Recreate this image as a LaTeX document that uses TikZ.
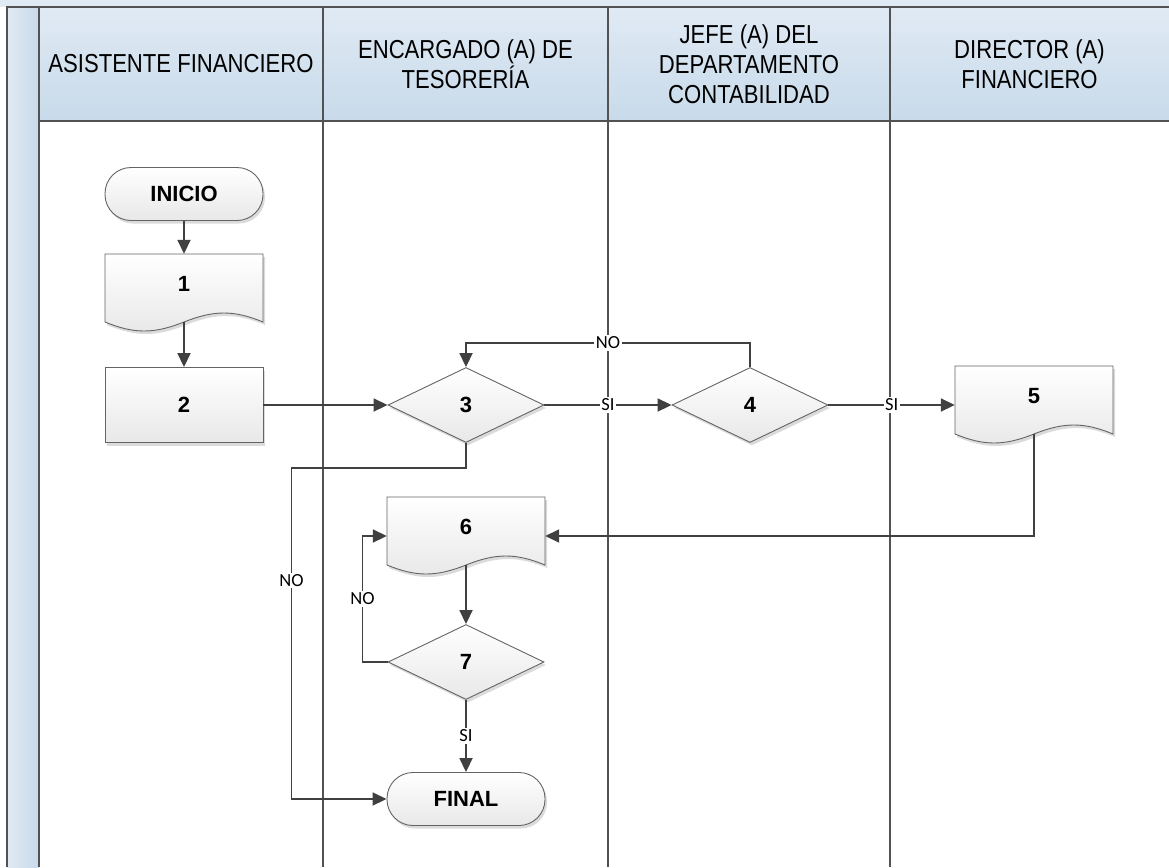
\documentclass[tikz,border=0pt]{standalone}
\usepackage{fontspec}
\setmainfont{Liberation Sans}
\newfontfamily\headfont[FakeStretch=0.85]{Liberation Sans}
\newfontfamily\tagfont{Carlito}
\usetikzlibrary{arrows.meta,shapes.geometric,shadows}

\definecolor{lanegray}{RGB}{82,82,82}
\definecolor{flowgray}{RGB}{64,64,64}
\definecolor{edgegray}{RGB}{100,100,100}
\definecolor{hdrtop}{RGB}{224,234,244}
\definecolor{hdrbot}{RGB}{200,218,234}

\tikzset{
  lane/.style={draw=lanegray, line width=2pt},
  lanehdr/.style={font=\headfont\fontsize{26}{30}\selectfont, align=center},
  flowbody/.style={draw=edgegray, line width=0.9pt, top color=white, bottom color=black!9,
    drop shadow={shadow xshift=2pt, shadow yshift=-3pt, fill=black!14, opacity=1},
    font=\fontsize{22}{26}\selectfont\bfseries},
  termbox/.style={flowbody, rectangle, rounded corners=26pt, minimum width=158pt, minimum height=53pt},
  procbox/.style={flowbody, rectangle, minimum width=158pt, minimum height=75pt},
  decbox/.style={flowbody, diamond, inner sep=0pt, minimum width=156pt, minimum height=75pt},
  docbox/.style={rectangle, inner sep=0pt, minimum width=158pt, minimum height=60pt,
    font=\fontsize{22}{26}\selectfont\bfseries},
  flow/.style={draw=flowgray, line width=1.8pt, -{Triangle[length=14pt,width=13pt]}},
  tag/.style={font=\tagfont\fontsize{18.5}{20}\selectfont, fill=white, inner sep=1.5pt},
}

% hoja con borde ondulado: se dibuja antes del nodo para que el texto quede encima
\newcommand{\wavepath}{(-79,-30) -- (79,-30) -- (79,38) .. controls (50,26) and (30,26) .. (0,38)
  .. controls (-30,50) and (-50,50) .. (-79,38) -- cycle}
\newcommand{\docshape}[3]{%
  \begin{scope}[shift={(#2)}]
    \fill[black!14, xshift=2pt, yshift=-3pt] \wavepath;
    \shade[top color=white, bottom color=black!9, draw=edgegray, line width=0.9pt] \wavepath;
  \end{scope}
  \node[docbox] (#1) at (#2) {#3};}

\begin{document}
\begin{tikzpicture}[x=1pt, y=-1pt]
  \useasboundingbox (0,0) rectangle (1169,867);
  % carriles
  \fill[hdrtop] (0,0) rectangle (1169,7);
  \shade[left color=hdrtop, right color=hdrbot] (7,7) rectangle (39,867);
  \shade[top color=hdrtop, bottom color=hdrbot] (39,7) rectangle (1169,121);
  \draw[lane] (7,867) -- (7,7) -- (1169,7);
  \draw[lane] (39,7) -- (39,867);
  \draw[lane] (39,121) -- (1169,121);
  \foreach \x in {323,608,890}
    \draw[lane] (\x,7) -- (\x,867);
  \node[lanehdr] (hdrasis) at (181,64) {ASISTENTE FINANCIERO};
  \node[lanehdr] (hdrteso) at (465.5,64) {ENCARGADO (A) DE\\TESORERÍA};
  \node[lanehdr] (hdrjefe) at (749,64) {JEFE (A) DEL\\DEPARTAMENTO\\CONTABILIDAD};
  \node[lanehdr] (hdrdir) at (1029.5,64) {DIRECTOR (A)\\FINANCIERO};

  % pasos
  \node[termbox] (inicio) at (184,194) {INICIO};
  \docshape{doc1}{184,284}{1}
  \node[procbox] (proc2) at (184,405) {2};
  \node[decbox] (dec3) at (466,405) {3};
  \node[decbox] (dec4) at (750,405) {4};
  \docshape{doc5}{1034,396}{5}
  \docshape{doc6}{466,527}{6}
  \node[decbox] (dec7) at (466,662) {7};
  \node[termbox] (fin) at (466,799) {FINAL};

  % flujo
  \draw[flow] (inicio) -- (doc1);
  \draw[flow] ([yshift=-8pt]doc1.south) -- (proc2);
  \draw[flow] (proc2) -- (dec3);
  \draw[flow] (dec3) -- node[tag] {SI} (dec4);
  \draw[flow] (dec4.east) -- node[tag] {SI} (dec4.east -| doc5.west);
  \draw[flow] (dec4.north) -- ++(0,-24) -| node[tag, pos=0.25] {NO} (dec3.north);
  \draw[flow] (dec3.south) -- ++(0,25) -| node[tag, pos=0.67] {NO} ([xshift=-95pt]fin.west) -- (fin.west);
  \draw[flow] ([yshift=-8pt]doc5.south) |- ([yshift=-9pt]doc6.east);
  \draw[flow] ([yshift=-8pt]doc6.south) -- (dec7);
  \draw[flow] (dec7.west) -- ++(-25,0) |- node[tag, pos=0.25] {NO} ([yshift=-9pt]doc6.west);
  \draw[flow] (dec7) -- node[tag] {SI} (fin);
\end{tikzpicture}
\end{document}
